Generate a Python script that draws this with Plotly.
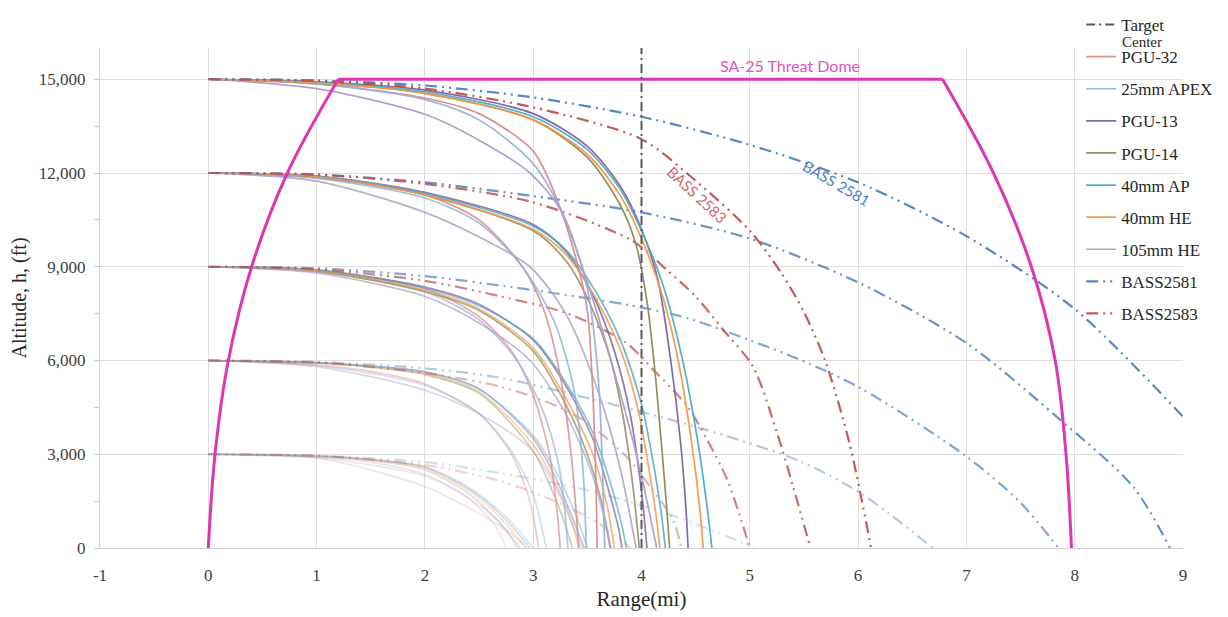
import plotly.graph_objects as go

# ---------------- data ----------------
ALTITUDES_FT = [15000, 12000, 9000, 6000, 3000]
X_TICKS = list(range(-1, 10))
X_TICK_TEXT = ["-1", "0", "1", "2", "3", "4", "5", "6", "7", "8", "9"]
Y_TICKS = [0, 3000, 6000, 9000, 12000, 15000]

TARGET_CENTER_X = [4, 4]
TARGET_CENTER_Y = [0, 16000]

DOME_LEFT = [[0, 0], [0.062, 3000], [0.185, 6000], [0.40, 9000], [0.73, 12000], [1.20, 15000]]
DOME_TOP = [[1.20, 15000], [6.78, 15000]]
DOME_RIGHT = [[6.78, 15000], [7.25, 12000], [7.60, 9000], [7.82, 6000], [7.92, 3000], [7.97, 0]]

# one trajectory per release altitude (15000, 12000, 9000, 6000, 3000 ft), points (range mi, altitude ft)
PGU_32 = [
    [[0, 15000], [1, 14850], [2, 14400], [2.5, 13900], [3.0, 12700], [3.22, 11150], [3.4, 9200], [3.5, 7600], [3.55, 5000], [3.58, 2000], [3.59, 0]],
    [[0, 12000], [1, 11850], [2, 11300], [2.5, 10500], [2.9, 9000], [3.1, 7600], [3.25, 5500], [3.35, 3000], [3.4, 1000], [3.42, 0]],
    [[0, 9000], [1, 8850], [2, 8300], [2.5, 7400], [2.8, 6300], [3.0, 4900], [3.15, 3000], [3.22, 1200], [3.25, 0]],
    [[0, 6000], [1, 5850], [1.5, 5650], [2, 5250], [2.5, 4300], [2.8, 3000], [2.97, 1500], [3.05, 0]],
    [[0, 3000], [1, 2900], [1.5, 2750], [2, 2350], [2.4, 1600], [2.65, 700], [2.75, 0]],
]
APEX_25MM = [
    [[0, 15000], [1, 14850], [2, 14350], [2.5, 13700], [3.0, 12300], [3.3, 10500], [3.5, 8300], [3.6, 5500], [3.64, 2500], [3.66, 0]],
    [[0, 12000], [1, 11830], [2, 11200], [2.5, 10400], [2.9, 9000], [3.2, 7200], [3.38, 5000], [3.46, 2500], [3.49, 0]],
    [[0, 9000], [1, 8830], [2, 8200], [2.5, 7300], [2.85, 6000], [3.1, 4300], [3.25, 2400], [3.32, 0]],
    [[0, 6000], [1, 5840], [2, 5200], [2.5, 4300], [2.8, 3100], [3.0, 1700], [3.12, 0]],
    [[0, 3000], [1, 2890], [2, 2300], [2.4, 1600], [2.7, 800], [2.85, 0]],
]
PGU_13 = [
    [[0, 15000], [1, 14920], [2, 14650], [3, 13900], [3.5, 12850], [3.8, 11600], [4.0, 10200], [4.15, 8600], [4.27, 6000], [4.36, 3400], [4.41, 1300], [4.43, 0]],
    [[0, 12000], [1, 11900], [2, 11380], [3, 10350], [3.3, 9500], [3.55, 8100], [3.75, 6300], [3.9, 4200], [3.99, 2100], [4.03, 800], [4.05, 0]],
    [[0, 9000], [1, 8900], [2, 8350], [2.5, 7800], [3.0, 6650], [3.3, 5200], [3.55, 3500], [3.7, 1800], [3.79, 600], [3.82, 0]],
    [[0, 6000], [1, 5930], [1.5, 5820], [2, 5640], [2.5, 5100], [3.0, 3500], [3.2, 2300], [3.37, 900], [3.47, 0]],
    [[0, 3000], [1, 2950], [1.5, 2830], [2, 2580], [2.4, 1900], [2.72, 1000], [2.97, 0]],
]
PGU_14 = [
    [[0, 15000], [1, 14880], [2, 14550], [3, 13700], [3.5, 12500], [3.8, 11000], [3.95, 9700], [4.05, 7900], [4.12, 5800], [4.18, 3500], [4.23, 1400], [4.26, 0]],
    [[0, 12000], [1, 11880], [2, 11300], [3, 10150], [3.3, 9200], [3.5, 8000], [3.7, 6200], [3.83, 4200], [3.92, 2000], [3.96, 700], [3.98, 0]],
    [[0, 9000], [1, 8870], [2, 8200], [2.5, 7600], [3.0, 6300], [3.3, 4600], [3.5, 3000], [3.63, 1500], [3.71, 0]],
    [[0, 6000], [1, 5920], [1.5, 5790], [2, 5550], [2.5, 4950], [3.0, 3100], [3.18, 1800], [3.3, 700], [3.36, 0]],
    [[0, 3000], [1, 2935], [1.5, 2800], [2, 2500], [2.4, 1750], [2.65, 950], [2.88, 0]],
]
AP_40MM = [
    [[0, 15000], [1, 14900], [2, 14600], [3, 13800], [3.5, 12750], [3.8, 11500], [4.0, 10150], [4.2, 8400], [4.38, 6000], [4.52, 3400], [4.61, 1200], [4.65, 0]],
    [[0, 12000], [1, 11900], [2, 11350], [3, 10300], [3.3, 9550], [3.56, 8300], [3.8, 6700], [4.0, 4600], [4.12, 2500], [4.19, 900], [4.22, 0]],
    [[0, 9000], [1, 8900], [2, 8320], [2.5, 7750], [3.0, 6700], [3.3, 5300], [3.55, 3700], [3.72, 2000], [3.82, 700], [3.86, 0]],
    [[0, 6000], [1, 5930], [1.5, 5820], [2, 5620], [2.5, 5080], [3.0, 3600], [3.2, 2500], [3.4, 1000], [3.5, 0]],
    [[0, 3000], [1, 2950], [1.5, 2840], [2, 2600], [2.4, 1950], [2.75, 1000], [3.0, 0]],
]
HE_40MM = [
    [[0, 15000], [1, 14880], [2, 14550], [3, 13700], [3.5, 12600], [3.8, 11300], [4.0, 9900], [4.2, 8000], [4.35, 5800], [4.47, 3200], [4.54, 1200], [4.57, 0]],
    [[0, 12000], [1, 11880], [2, 11300], [3, 10200], [3.3, 9400], [3.56, 8100], [3.8, 6400], [3.97, 4400], [4.08, 2300], [4.14, 900], [4.17, 0]],
    [[0, 9000], [1, 8880], [2, 8250], [2.5, 7650], [3.0, 6400], [3.3, 4800], [3.55, 3000], [3.68, 1400], [3.75, 0]],
    [[0, 6000], [1, 5920], [1.5, 5800], [2, 5580], [2.5, 5000], [3.0, 3300], [3.2, 2100], [3.35, 900], [3.42, 0]],
    [[0, 3000], [1, 2940], [1.5, 2820], [2, 2550], [2.4, 1850], [2.7, 950], [2.93, 0]],
]
HE_105MM = [
    [[0, 15000], [1, 14700], [2, 13880], [2.5, 13050], [2.97, 12000], [3.25, 10830], [3.5, 8500], [3.8, 5000], [4.0, 2300], [4.14, 0]],
    [[0, 12000], [1, 11740], [2, 10740], [2.5, 9950], [2.97, 9000], [3.3, 7500], [3.6, 5000], [3.8, 2600], [3.95, 0]],
    [[0, 9000], [1, 8800], [2, 8050], [2.5, 7200], [2.97, 6000], [3.3, 4300], [3.55, 2300], [3.72, 0]],
    [[0, 6000], [1, 5800], [2, 5050], [2.5, 4300], [2.97, 3200], [3.2, 2000], [3.45, 0]],
    [[0, 3000], [1, 2880], [2, 1960], [2.5, 1100], [2.8, 450], [2.95, 0]],
]
BASS_2581 = [
    [[0, 15000], [1, 14960], [2, 14800], [3, 14420], [4, 13800], [5, 12900], [6, 11700], [7, 9980], [8, 7650], [9, 4200]],
    [[0, 12000], [1, 11950], [2, 11700], [3, 11260], [4, 10740], [5, 9900], [6, 8500], [7, 6560], [7.83, 4210], [8.54, 1960], [8.88, 0]],
    [[0, 9000], [1, 8950], [2, 8700], [3, 8250], [3.86, 7790], [4.42, 7360], [5.0, 6650], [5.46, 6030], [6.02, 5120], [7.0, 2930], [7.5, 1450], [7.85, 0]],
    [[0, 6000], [1, 5950], [2, 5750], [2.69, 5450], [3.5, 4800], [4.6, 3780], [5.46, 2780], [6.02, 1760], [6.69, 0]],
    [[0, 3000], [1, 2950], [2, 2750], [2.69, 2400], [3.5, 1850], [4.23, 1110], [4.7, 500], [5.05, 0]],
]
BASS_2583 = [
    [[0, 15000], [1, 14950], [2, 14700], [3, 14100], [4, 13080], [4.5, 11750], [5.0, 10150], [5.3, 8750], [5.5, 7550], [5.7, 5950], [5.92, 3360], [6.12, 0]],
    [[0, 12000], [1, 11950], [2, 11650], [3, 11060], [3.92, 9820], [4.23, 8910], [4.5, 8050], [4.75, 7000], [5.03, 5800], [5.25, 3700], [5.40, 1960], [5.56, 0]],
    [[0, 9000], [1, 8920], [2, 8550], [2.7, 8050], [3.32, 7500], [3.86, 6560], [4.11, 5700], [4.42, 4550], [4.6, 3500], [4.79, 2200], [4.92, 900], [5.0, 0]],
    [[0, 6000], [1, 5930], [2, 5600], [2.69, 5170], [3.15, 4640], [3.46, 4100], [3.86, 2930], [4.08, 1960], [4.29, 900], [4.37, 0]],
    [[0, 3000], [1, 2950], [2, 2650], [2.69, 2150], [3.2, 1500], [3.6, 800], [3.9, 0]],
]

SERIES_NAMES = ["PGU-32", "25mm APEX", "PGU-13", "PGU-14", "40mm AP", "40mm HE", "105mm HE", "BASS2581", "BASS2583"]
SERIES_DATA = [PGU_32, APEX_25MM, PGU_13, PGU_14, AP_40MM, HE_40MM, HE_105MM, BASS_2581, BASS_2583]

# ---------------- styles ----------------
COLORS = {
    "PGU-32": "#d98c8a",
    "25mm APEX": "#95b3d7",
    "PGU-13": "#7f62a3",
    "PGU-14": "#8d8a57",
    "40mm AP": "#4bacc6",
    "40mm HE": "#f79646",
    "105mm HE": "#ad9fc6",
    "BASS2581": "#4f81bd",
    "BASS2583": "#c0504d",
}
ALT_ALPHA = [0.95, 0.85, 0.7, 0.42, 0.25]
BASS_DASH = "12px,5px,2px,5px,2px,5px"
SERIF = "Liberation Serif"

fig = go.Figure()

# trajectories: lowest altitude first so the upper families sit on top
for ai in reversed(range(len(ALTITUDES_FT))):
    for si, (name, data) in enumerate(zip(SERIES_NAMES, SERIES_DATA)):
        pts = data[ai]
        is_bass = name.startswith("BASS")
        fig.add_trace(go.Scatter(
            x=[p[0] for p in pts], y=[p[1] for p in pts],
            mode="lines", name=name,
            line=dict(color=COLORS[name], width=2.2 if is_bass else 1.7,
                      dash=BASS_DASH if is_bass else "solid",
                      shape="spline", smoothing=0.8),
            opacity=ALT_ALPHA[ai],
            legendgroup=name, legendrank=10 + si,
            showlegend=(ai == 0),
            hoverinfo="skip",
        ))

# threat dome
for seg, shape in ((DOME_LEFT, "spline"), (DOME_TOP, "linear"), (DOME_RIGHT, "spline")):
    fig.add_trace(go.Scatter(
        x=[p[0] for p in seg], y=[p[1] for p in seg], mode="lines",
        line=dict(color="#dd36b4", width=3, shape=shape),
        showlegend=False, hoverinfo="skip",
    ))

# target center
fig.add_trace(go.Scatter(
    x=TARGET_CENTER_X, y=TARGET_CENTER_Y, mode="lines", name="Target",
    line=dict(color="#595959", width=2, dash="9px,4px,2px,4px"),
    legendgroup="target", legendrank=1, hoverinfo="skip",
))

fig.add_annotation(x=5.37, y=15450, text="SA-25 Threat Dome", showarrow=False,
                   font=dict(family="Lato", size=16, color="#e054bd"))
fig.add_annotation(x=5.80, y=11670, text="BASS 2581", showarrow=False, textangle=30,
                   font=dict(family="Lato", size=15, color="#4f7fbf"))
fig.add_annotation(x=4.52, y=11310, text="BASS 2583", showarrow=False, textangle=43,
                   font=dict(family="Lato", size=15, color="#cc6866"))
# second line of the "Target Center" legend label
fig.add_annotation(xref="paper", yref="paper", x=0.9425, y=1.013, xanchor="left", yanchor="middle",
                   text="Center", showarrow=False, borderpad=0,
                   font=dict(family=SERIF, size=15, color="#262626"))

fig.update_layout(
    width=1220, height=609,
    margin=dict(l=92, r=45, t=40, b=69, autoexpand=False),
    paper_bgcolor="white", plot_bgcolor="white",
    showlegend=True,
    legend=dict(x=0.906, y=1.082, xanchor="left", yanchor="top", maxheight=580,
                bgcolor="rgba(0,0,0,0)", font=dict(family=SERIF, size=17, color="#262626"),
                tracegroupgap=7, itemwidth=30, traceorder="grouped"),
    xaxis=dict(range=[-1, 9], tickvals=X_TICKS, ticktext=X_TICK_TEXT, showgrid=True,
               gridcolor="#dedede", gridwidth=1,
               zeroline=False, showline=True, linecolor="#d0d0d0", linewidth=1,
               ticks="", ticklabelstandoff=12, tickfont=dict(family=SERIF, size=17, color="#404040"),
               title=dict(text="Range(mi)", font=dict(family=SERIF, size=21, color="#262626"), standoff=6)),
    yaxis=dict(range=[0, 16000], tickvals=Y_TICKS, tickformat=",", showgrid=True, gridcolor="#dedede",
               gridwidth=1, zeroline=False, showline=True, linecolor="#d0d0d0", linewidth=1,
               ticks="", ticklabelstandoff=10, tickfont=dict(family=SERIF, size=17, color="#404040"),
               minor=dict(dtick=1500, ticks="outside", ticklen=5, tickcolor="#c8c8c8", showgrid=False),
               title=dict(text="Altitude, h, (ft)", font=dict(family=SERIF, size=20, color="#262626"), standoff=8)),
)

fig.write_html("out.html")
